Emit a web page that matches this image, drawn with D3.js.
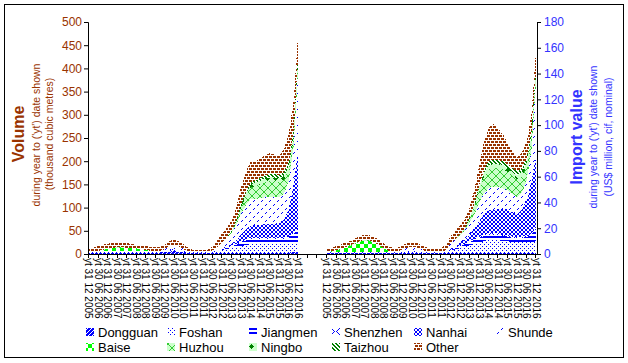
<!DOCTYPE html>
<html><head><meta charset="utf-8">
<script src="https://cdn.jsdelivr.net/npm/d3@7"></script>
<style>body{margin:0;background:#fff}svg{display:block;font-family:Arial,"Liberation Sans",sans-serif}</style>
</head><body><svg id="c" width="628" height="363"></svg>
<script>
// ---------- DATA ----------
const periods = ["2005-12","2006-03","2006-06","2006-09","2006-12","2007-03","2007-06","2007-09","2007-12","2008-03","2008-06","2008-09","2008-12","2009-03","2009-06","2009-09","2009-12","2010-03","2010-06","2010-09","2010-12","2011-03","2011-06","2011-09","2011-12","2012-03","2012-06","2012-09","2012-12","2013-03","2013-06","2013-09","2013-12","2014-03","2014-06","2014-09","2014-12","2015-03","2015-06","2015-09","2015-12","2016-03","2016-06","2016-09","2016-12"];
const series = ["Dongguan","Foshan","Jiangmen","Shenzhen","Nanhai","Shunde","Baise","Huzhou","Ningbo","Taizhou","Other"];
const xTickLabels = ["yt 31 12 2005","yt 30 06 2006","yt 31 12 2006","yt 30 06 2007","yt 31 12 2007","yt 30 06 2008","yt 31 12 2008","yt 30 06 2009","yt 31 12 2009","yt 30 06 2010","yt 31 12 2010","yt 30 06 2011","yt 31 12 2011","yt 30 06 2012","yt 31 12 2012","yt 30 06 2013","yt 31 12 2013","yt 30 06 2014","yt 31 12 2014","yt 30 06 2015","yt 31 12 2015","yt 30 06 2016","yt 31 12 2016"];
const volTicks = [0,50,100,150,200,250,300,350,400,450,500];
const valTicks = [0,20,40,60,80,100,120,140,160,180];

// Volume (thousand m3)
const volDongguan = [3,3,3,3,3,3,3,3,3,3,3,3,3,3,3,3,4,5,6,5,4,2,2,2,2,2,2,2,3,3,3,3,3,3,3,3,3,3,3,3,3,3,3,4,5];
const volFoshan   = [1,1,1,1,1,1,1,1,1,1,1,1,1,1,1,1,2,3,3,2,1,1,1,1,1,1,2,4,6,8,10,12,14,16,18,18,18,18,18,18,18,18,18,19,20];
const volJiangmen = [0,0,0,0,0,0,0,0,0,0,0,0,0,0,0,0,0,0,0,0,0,0,0,0,0,0,0,0,1,2,3,5,8,10,12,12,12,12,12,12,12,12,14,20,30];
const volShenzhen = [0.5,0.5,0.5,0.5,0.5,0.5,0.5,0.5,0.5,0.5,0.5,0.5,0.5,0.5,0.5,0.5,1,1.5,2,1.5,1,0.5,0.5,0.5,0.5,0.5,1,1,1,1,1.5,2,2,2,2,2,2,2,2,2,2,2,2,3,3];
const volNanhai   = [0,0,0,0,0,0,0,0,0,0,0,0,0,0,0,0,0,0,0,0,0,0,0,0,0,0,0,0,1,2,4,8,15,22,26,28,28,30,30,30,32,40,60,100,165];
const volShunde   = [1.5,1.5,1.5,1.5,1.5,1.5,1.5,1.5,1.5,1.5,1.5,1.5,1.5,1.5,1.5,2,4,8,10,8,4,2,1,1,1,1,3,8,14,18,24,33,45,52,57,56,57,57,57,57,55,55,60,80,180];
const volBaise    = [0,0,1,3,5,7,8,8,7,7,6,5,3,1,0,0,0,0,0,0,0,0,0,0,0,0,0,0,0,0,0,0,0,0,0,0,0,0,0,0,0,0,0,0,0];
const volHuzhou   = [0,0,0,0,0.5,0.5,0.5,0.5,0.5,0,0,0,0,0,0,0,0,0,0,0,0,0,0,0,0,0,0,0,0,1,3,6,12,20,25,28,30,33,35,35,33,30,25,20,15];
const volNingbo   = [0,0,0,0,0,0,0,0,0,0,0,0,0,0,0,0,0,0,0,0,0,0,0,0,0,0,0,0,0,0,0,1,3,5,6,7,8,8,8,8,8,8,6,5,4];
const volTaizhou  = [0,0,0,0,0,0,0,0,0,0,0,0,0,0,0,0,0,0,0,0,0,0,0,0,0,0,0,0,0,0,1,2,3,4,5,5,6,6,7,7,7,8,8,9,10];
const volOther    = [6,8,10,11,10.5,10.5,10.5,10.5,9.5,9,8,8,8,8,9,9.5,9,10.5,11,10.5,10,6.5,4.5,3.5,4.5,4.5,9,15,18,21,22.5,28,40,44,45,41,41,44,45,43,42,49,64,65,46];

// Import value (US$ million)
const valDongguan = [0.5,0.5,0.5,0.5,0.5,0.5,0.5,0.5,0.5,0.5,0.5,0.5,0.5,0.5,0.5,0.5,0.6,0.8,0.8,0.8,0.6,0.5,0.5,0.5,0.5,0.5,0.5,0.5,0.6,0.6,0.7,0.8,0.9,1,1,1,1,1,1,1,1,1,1,1,1];
const valFoshan   = [0.3,0.3,0.3,0.3,0.3,0.3,0.3,0.3,0.3,0.3,0.3,0.3,0.3,0.3,0.3,0.3,0.5,0.7,0.7,0.6,0.4,0.3,0.3,0.3,0.3,0.8,2,3,4,5,6,7,8,9,10,10,10,9,9,8,8,8,8,8,9];
const valJiangmen = [0,0,0,0,0,0,0,0,0,0,0,0,0,0,0,0,0,0,0,0,0,0,0,0,0,0,0.5,1,1.5,2,2.5,3,3.5,4,4,4,4,4,3.5,3.5,3,3.5,4,6,10];
const valShenzhen = [0.2,0.2,0.2,0.2,0.2,0.2,0.2,0.2,0.2,0.2,0.2,0.2,0.2,0.2,0.2,0.2,0.4,0.5,0.5,0.5,0.4,0.2,0.2,0.2,0.2,0.3,0.5,0.5,0.6,0.7,0.8,1,1,1,1,1,1,1,1,1,1,1,1,1,1];
const valNanhai   = [0,0,0,0,0,0,0,0,0,0,0,0,0,0,0,0,0,0,0,0,0,0,0,0,0,0,0.5,1,2,3,5,8,12,16,18,18,19,20,20,19,18,21,28,40,55];
const valShunde   = [0.5,0.5,0.5,0.5,0.5,0.5,0.5,0.5,0.5,0.5,0.5,0.5,0.5,0.5,0.5,1,2,3,3.5,3,2,1,0.5,0.5,0.5,1.5,4,5,6,7,9,11,14,16,17,18,17,16,15,14,13,13,15,25,60];
const valBaise    = [0,0.5,1.5,2.5,4,5,6.5,8,9,8.5,7.5,5.5,3,1,0,0,0,0,0,0,0,0,0,0,0,0,0,0,0,0,0,0,0,0,0,0,0,0,0,0,0,0,0,0,0];
const valHuzhou   = [0,0,0,0,0,0.5,0.5,0.5,0.5,0.5,0,0,0,0,0,0,0,0,0,0,0,0,0,0,0,0,0,0,0.5,1,3,6,10,13,15,15,15,15,14,14,14,13,11,9,5];
const valNingbo   = [0,0,0,0,0,0,0,0,0,0,0,0,0,0,0,0,0,0,0,0,0,0,0,0,0,0,0,0,0,0.3,0.7,1.2,2,2.5,3,3,3,3,3,3,3,3,2.5,2,1];
const valTaizhou  = [0,0,0,0,0,0,0,0,0,0,0,0,0,0,0,0,0,0,0,0,0,0,0,0,0,0,0,0,0,0.3,0.7,1,1.5,2,3,3,3,3,3,3,3,3,3,3,3];
const valOther    = [2.5,3,3,3.5,3.5,3,3.5,4,4,4,4,4,3.5,3.5,3,3,3.5,4,4,3.6,3.1,3,3,3,3,3.9,6,7,6.8,7.1,7.6,11,15.1,22.5,26,28,24,21,16.5,12.5,11,12.5,13.5,13,15];

const volumeSeries = {Dongguan:volDongguan,Foshan:volFoshan,Jiangmen:volJiangmen,Shenzhen:volShenzhen,Nanhai:volNanhai,Shunde:volShunde,Baise:volBaise,Huzhou:volHuzhou,Ningbo:volNingbo,Taizhou:volTaizhou,Other:volOther};
const valueSeries = {Dongguan:valDongguan,Foshan:valFoshan,Jiangmen:valJiangmen,Shenzhen:valShenzhen,Nanhai:valNanhai,Shunde:valShunde,Baise:valBaise,Huzhou:valHuzhou,Ningbo:valNingbo,Taizhou:valTaizhou,Other:valOther};

// ---------- CHART ----------
const svg = d3.select("#c");
const BROWN = "#993300", BLUE = "#3333ff";
svg.append("rect").attr("x",0).attr("y",0).attr("width",628).attr("height",363).attr("fill","#fff");
svg.append("rect").attr("x",4.5).attr("y",4.5).attr("width",619).attr("height",353).attr("fill","none").attr("stroke","#000");

const defs = svg.append("defs");
function pat(id, rows, fg, bg){
  const h=rows.length, w=rows[0].length;
  const p=defs.append("pattern").attr("id",id).attr("width",w).attr("height",h).attr("patternUnits","userSpaceOnUse");
  if(bg) p.append("rect").attr("width",w).attr("height",h).attr("fill",bg);
  rows.forEach((r,y)=>[...r].forEach((ch,x)=>{ if(ch==="1") p.append("rect").attr("x",x).attr("y",y).attr("width",1).attr("height",1).attr("fill",fg).attr("shape-rendering","crispEdges");}));
}
pat("p-Dongguan",["1110","1101","1011","0111"],"#0000ff","#fff");
pat("p-Foshan",["1000","0000","0010","0000"],"#0000ff","#fff");
pat("p-Jiangmen",["1111","1111","0000","0000"],"#0000ff","#fff");
pat("p-Shenzhen",["00010000","00101000","01000100","10000010","01000100","00101000","00010000","00000000"],"#0000ff","#fff");
pat("p-Nanhai",["1001","0110","0110","1001"],"#0000ff","#fff");
pat("p-Shunde",["00000010","00000100","00000000","00000000","00100000","01000000","00000000","00000000"],"#0000ff","#fff");
pat("p-Baise",["11110000","11110000","11110000","11110000","00001111","00001111","00001111","00001111"],"#00ff00","#fff");
pat("p-Huzhou",["10000001","01000010","00100100","00011000","00011000","00100100","01000010","10000001"],"#33cc33","#ccffcc");
pat("p-Ningbo",["00010000","00111000","01111100","00111000","00010000","00000000","00000000","00000000"],"#008000","#ccffcc");
pat("p-Taizhou",["1100","0110","0011","1001"],"#008000","#fff");
pat("p-Other",["01110111","01110111","00000000","11011101","11011101","00000000"],BROWN,"#fff");

const x = d3.scaleLinear().domain([-0.5,282.5]).range([88,537]);
const yL = d3.scaleLinear().domain([0,500]).range([254,22]);
const yR = d3.scaleLinear().domain([0,180]).range([254,22]);
const monthIdx = p => { const [yy,mm]=p.split("-").map(Number); return (yy-2005)*12+mm-12; };

function drawPanel(obj, offset, y){
  const rows = periods.map((p,i)=>{ const r={cat:monthIdx(p)}; series.forEach(s=>r[s]=obj[s][i]); return r; });
  const stacked = d3.stack().keys(series)(rows);
  const area = d3.area().x(d=>x(offset+d.data.cat)).y0(d=>y(d[0])).y1(d=>y(d[1]));
  svg.append("g").selectAll("path").data(stacked).join("path")
    .attr("d",area).attr("fill",d=>`url(#p-${d.key})`).attr("shape-rendering","crispEdges");
}
drawPanel(volumeSeries,0,yL);
drawPanel(valueSeries,150,yR);

// axes
const axL = svg.append("g").attr("transform","translate(88,0)").call(d3.axisLeft(yL).tickValues(volTicks).tickSize(4).tickPadding(2));
axL.select(".domain").attr("stroke","#000");
axL.selectAll("line").attr("stroke","#000");
axL.selectAll("text").attr("fill",BROWN).attr("font-size",12).attr("font-family","Arial,'Liberation Sans',sans-serif");
const axR = svg.append("g").attr("transform","translate(537,0)").call(d3.axisRight(yR).tickValues(valTicks).tickSize(4).tickPadding(3));
axR.select(".domain").attr("stroke","#000");
axR.selectAll("line").attr("stroke","#000");
axR.selectAll("text").attr("fill",BLUE).attr("font-size",12).attr("font-family","Arial,'Liberation Sans',sans-serif");

svg.append("line").attr("x1",88).attr("x2",537).attr("y1",254.5).attr("y2",254.5).attr("stroke","#000");
const tickCats = d3.range(0,283,6);
svg.append("g").selectAll("line").data(tickCats).join("line")
  .attr("x1",d=>Math.round(x(d-0.5))+0.5).attr("x2",d=>Math.round(x(d-0.5))+0.5).attr("y1",254).attr("y2",258).attr("stroke","#000");

const labG = svg.append("g").attr("font-size",10).attr("fill","#000");
xTickLabels.forEach((t,i)=>{
  [0,150].forEach(off=>{
    labG.append("text").attr("transform",`translate(${x(off+6*i)},258) rotate(90)`)
      .attr("dy","0.35em").attr("text-anchor","start").text(t);
  });
});

// axis titles
function vtext(xp, yp, txt, size, color, bold){
  svg.append("text").attr("transform",`translate(${xp},${yp}) rotate(-90)`).attr("text-anchor","middle")
    .attr("font-size",size).attr("fill",color).attr("font-weight",bold?"bold":"normal").text(txt);
}
vtext(24,134,"Volume",16,BROWN,true);
vtext(40,135,"during year to ('yt') date shown",10.5,BROWN,false);
vtext(53,134,"(thousand cubic metres)",10.5,BROWN,false);
vtext(582,137,"Import value",16,BLUE,true);
vtext(597,137,"during year to ('yt') date shown",10.5,BLUE,false);
vtext(612,137,"(US$ million, cif, nominal)",10.5,BLUE,false);

// legend
const legPos = [[86,328],[167,328],[249,328],[332,328],[414,328],[496,328],[86,343],[167,343],[249,343],[332,343],[414,343]];
series.forEach((s,i)=>{
  const [lx,ly]=legPos[i];
  svg.append("rect").attr("x",lx).attr("y",ly).attr("width",8).attr("height",8).attr("fill",`url(#p-${s})`);
  svg.append("text").attr("x",lx+12).attr("y",ly+8.5).attr("font-size",13).attr("fill","#000").text(s);
});
</script></body></html>
